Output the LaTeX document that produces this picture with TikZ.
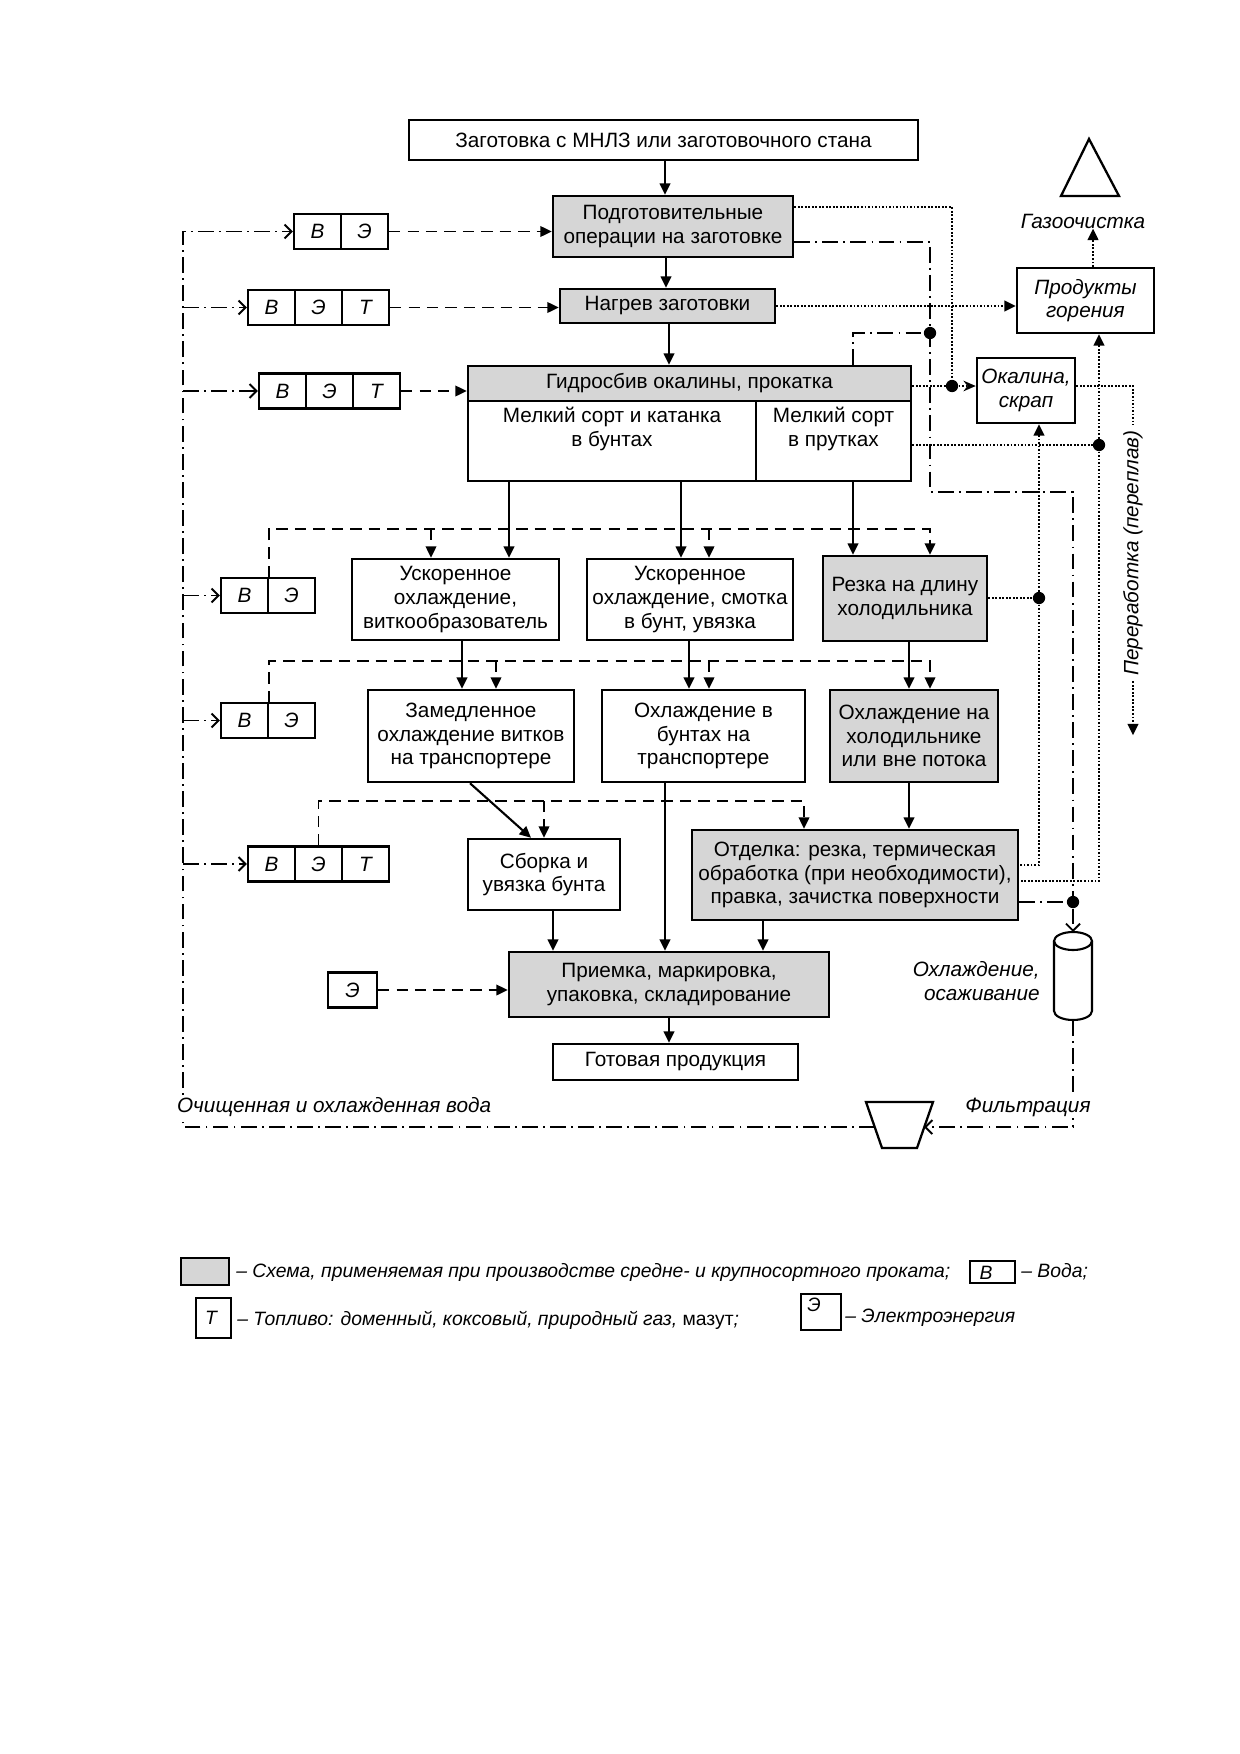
\documentclass[tikz,border=0pt]{standalone}
\usepackage{fontspec}
\setmainfont{Liberation Sans}
\usetikzlibrary{arrows.meta}

\tikzset{
  area/.style n args={4}{at={({(#1+#3)/2},{(#2+#4)/2})},
    minimum width={(#3-#1)*0.02cm}, minimum height={(#4-#2)*0.02cm}},
  box/.style={draw, line width=1.4pt, inner sep=0pt, align=center,
    font=\fontsize{11.8}{13.4}\selectfont},
  gbox/.style={box, fill=black!16},
  ibox/.style={box, font=\fontsize{11.8}{13.4}\selectfont\itshape},
  cell/.style={draw, line width=1.2pt, inner sep=0pt, minimum width=0.94cm,
    minimum height=0.7cm, font=\fontsize{11.8}{13}\selectfont\itshape},
  txt/.style={inner sep=0pt, align=center, font=\fontsize{11.8}{13.4}\selectfont},
  lbl/.style={inner sep=0pt, align=center, font=\fontsize{11.8}{13.4}\selectfont\itshape},
  lgd/.style={inner sep=0pt, font=\fontsize{11}{13}\selectfont\itshape},
  flow/.style={line width=1.2pt, -{Triangle[length=6.5pt,width=6pt]}},
  ftip/.style={-{Triangle[length=6.5pt,width=6pt]}},
  btip/.style={-{Straight Barb[length=4pt,width=8pt]}},
  feed/.style={line width=1.1pt, dash pattern=on 6.5pt off 4pt},
  water/.style={line width=1.1pt, dash pattern=on 9pt off 3pt on 1pt off 3pt},
  scrap/.style={line width=1.3pt, dash pattern=on 1pt off 1pt},
  jn/.style={circle, fill, inner sep=0pt, minimum size=7pt},
}

\begin{document}
\begin{tikzpicture}[x=0.02cm, y=-0.02cm]
\useasboundingbox (0,0) rectangle (1240,1754);

% main route
\node[box, area={409}{120}{918}{160}] (zag) {Заготовка с МНЛЗ или заготовочного стана};
\node[gbox, area={553}{196}{793}{257}] (podg) {Подготовительные\\операции на заготовке};
\node[gbox, area={560}{289}{775}{323}] (nagr) {Нагрев заготовки};
\node[gbox, area={468}{366}{911}{401}] (prokh) {Гидросбив окалины, прокатка};
\node[box, area={468}{401}{756}{481}] (bunt) {};
\node[box, area={756}{401}{911}{481}] (prut) {};
\node[txt, anchor=north] at ([yshift=-4pt]bunt.north) {Мелкий сорт и катанка\\в бунтах};
\node[txt, anchor=north] at ([yshift=-4pt]prut.north) {Мелкий сорт\\в прутках};

\node[box, area={352}{559}{559}{640}] (uskV) {Ускоренное\\охлаждение,\\виткообразователь};
\node[box, area={587}{559}{793}{640}] (uskS) {Ускоренное\\охлаждение, смотка\\в бунт, увязка};
\node[gbox, area={823}{556}{987}{641}] (rez) {Резка на длину\\холодильника};
\node[box, area={368}{690}{574}{782}] (zam) {Замедленное\\охлаждение витков\\на транспортере};
\node[box, area={602}{690}{805}{782}] (ohlB) {Охлаждение в\\бунтах на\\транспортере};
\node[gbox, area={830}{690}{998}{782}] (ohlH) {Охлаждение на\\холодильнике\\или вне потока};
\node[box, area={468}{839}{620}{910}] (sbor) {Сборка и\\увязка бунта};
\node[gbox, area={692}{830}{1018}{920}] (otd) {Отделка: резка, термическая\\обработка (при необходимости),\\правка, зачистка поверхности};
\node[gbox, area={509}{952}{829}{1017}] (priem) {Приемка, маркировка,\\упаковка, складирование};
\node[box, area={553}{1044}{798}{1080}] (gotov) {Готовая продукция};

\foreach \x/\a/\b in {665/zag/podg, 666/podg/nagr, 669/nagr/prokh,
    509/bunt/uskV, 681/bunt/uskS, 853/prut/rez,
    462/uskV/zam, 689/uskS/ohlB, 909/rez/ohlH,
    665/ohlB/priem, 909/ohlH/otd, 553/sbor/priem, 763/otd/priem, 669/priem/gotov}
    \draw[flow] (\x,0 |- \a.south) -- (\x,0 |- \b.north);
\draw[flow] (470,0 |- zam.south) -- (531,0 |- sbor.north);

% water, power, fuel
\foreach \r/\xl/\yc/\ls in {1/294/231.5/{В,Э}, 2/248/307.5/{В,Э,Т}, 3/259/391/{В,Э,Т},
    4/221/595.5/{В,Э}, 5/221/720.5/{В,Э}, 6/248/864/{В,Э,Т}} {
    \foreach \l [count=\i] in \ls
        \node[cell] (c\r-\i) at ({\xl+(\i-0.5)*47},\yc) {\l};
}
\node[cell, minimum width=0.98cm] (el) at (352.5,990) {Э};

\draw[feed, ftip] (c1-2.east) -- (c1-2.east -| podg.west);
\draw[feed, ftip] (c2-3.east) -- (c2-3.east -| nagr.west);
\draw[feed, ftip] (c3-3.east) -- (c3-3.east -| prokh.west);
\draw[feed, ftip] (c4-1.north east) |- (930,529) -- (930,0 |- rez.north);
\draw[feed, ftip] (c5-1.north east) |- (930,661) -- (930,0 |- ohlH.north);
\draw[feed, ftip] (c6-2.north) |- (804,801) -- (804,0 |- otd.north);
\foreach \x/\y/\b in {431/529/uskV, 709/529/uskS, 496/661/zam, 709/661/ohlB, 544/801/sbor}
    \draw[feed, ftip] (\x,\y) -- (\x,0 |- \b.north);
\draw[feed, ftip] (el) -- (el -| priem.west);

% gas cleaning, scale and scrap
\node[ibox, area={1017}{268}{1154}{333}] (prod) {Продукты\\горения};
\node[ibox, area={977}{358}{1075}{423}] (okal) {Окалина,\\скрап};
\node[lbl] (gaz) at (1083,221) {Газоочистка};
\draw[line width=1.3pt] (1089,139) -- (1119,196) -- (1061,196) -- cycle;
\node[lbl, rotate=90, inner sep=3pt] (perer) at (1133,553) {Переработка (переплав)};

\node[jn] (j2) at (952,386) {};
\node[jn] (j3) at (1099,445) {};
\node[jn] (j4) at (1039,598) {};
\draw[scrap] (podg.east |- 0,207) -| (j2);
\draw[scrap] (prokh.east |- j2) -- (j2);
\draw[scrap, -{Stealth[length=7pt,width=6pt]}] (j2) -- (okal.west |- j2);
\draw[scrap, ftip] (nagr.east) -- (nagr.east -| prod.west);
\draw[scrap] (prut.east |- j3) -- (j3);
\draw[scrap, ftip] (j3) -- (j3 |- prod.south);
\draw[scrap] (j3) |- (otd.east |- 0,881);
\draw[scrap] (rez.east |- j4) -- (j4);
\draw[scrap, ftip] (j4) -- (j4 |- okal.south);
\draw[scrap] (j4) |- (otd.east |- 0,865);
\draw[scrap] (okal.east |- j2) -| (perer.east);
\draw[scrap, ftip] (perer.west) -- ++(0,54);
\draw[scrap, ftip] (1093,0 |- prod.north) -- (1093,0 |- gaz.south);

% water circuit
\coordinate (fL) at (875,1127);
\coordinate (fR) at (924,1127);
\coordinate (cylT) at (1073,932);
\coordinate (cylB) at (1073,1020);
\draw[line width=1.3pt] (866,1102) -- (933,1102) -- (917,1148) -- (882,1148) -- cycle;
\draw[line width=1.2pt] (1073,941) ellipse [x radius=19, y radius=9];
\draw[line width=1.2pt] (1054,941) -- (1054,1011)
    arc[start angle=180, end angle=0, x radius=19, y radius=9] -- (1092,941);

\draw[water, btip] (fL) -- (183,1127) |- (c1-1.west);
\foreach \r in {2,...,6}
    \draw[water, btip] (183,0 |- c\r-1.west) -- (c\r-1.west);

\node[jn] (j1) at (930,333) {};
\node[jn] (jw) at (1073,902) {};
\draw[water] (podg.east |- 0,242) -| (930,492) -| (jw);
\draw[water] (853,0 |- prokh.north) |- (j1);
\draw[water] (otd.east |- jw) -- (jw);
\draw[water, btip] (jw) -- (cylT);
\draw[water, btip] (cylB) |- (fR);

\node[lbl, align=right, anchor=east] (osad) at (1040,981) {Охлаждение,\\осаживание};
\node[lbl, anchor=west, fill=white, inner sep=1pt] (ochv) at (175,1107) {Очищенная и охлажденная вода};
\node[lbl, fill=white, inner sep=1pt] (filt) at (1028,1107) {Фильтрация};

% legend
\node[gbox, area={181}{1258}{229}{1285}] (lg1) {};
\node[lgd, anchor=west] at (236,1272) {– Схема, применяемая при производстве средне- и крупносортного проката;};
\node[box, line width=1.1pt, area={970}{1261}{1015}{1283}] (lg2) {};
\node[lgd] at (986,1273) {В};
\node[lgd, anchor=west] at (1021,1272) {– Вода;};
\node[box, line width=1.1pt, area={196}{1298}{231}{1338}] (lg3) {};
\node[lgd] at (211,1318) {Т};
\node[lgd, anchor=west] at (237,1320) {– Топливо: доменный, коксовый, природный газ, \textup{мазут};};
\node[box, line width=1.1pt, area={801}{1294}{841}{1330}] (lg4) {};
\node[lgd] at (814,1305) {Э};
\node[lgd, anchor=west] at (845,1318) {– Электроэнергия};

\end{tikzpicture}
\end{document}
